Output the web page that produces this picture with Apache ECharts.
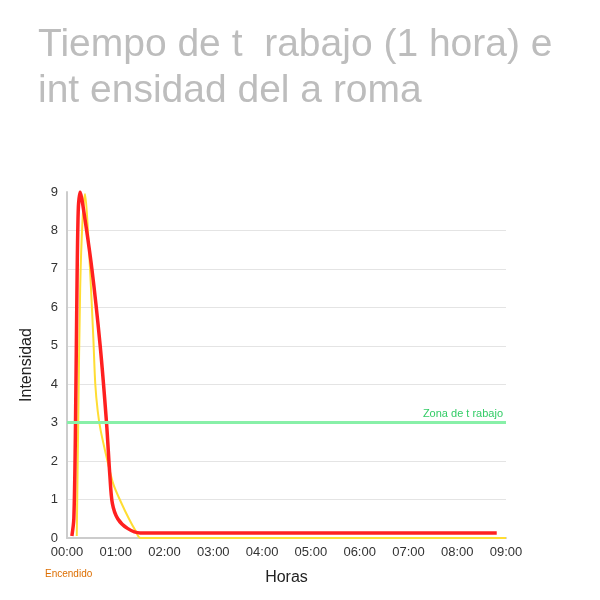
<!DOCTYPE html>
<html>
<head>
<meta charset="utf-8">
<script src="https://cdn.jsdelivr.net/npm/echarts@6/dist/echarts.min.js"></script>
<style>
  html, body { margin: 0; padding: 0; background: #fff; }
  #chart { width: 600px; height: 600px; }
</style>
</head>
<body>
<div id="chart"></div>
<script>
// hours since switch-on, intensity
const redCurve = [
    [0.10, 0.05], [0.14, 0.5], [0.17, 2.5], [0.20, 6.0],
    [0.23, 8.5], [0.27, 9.0], [0.32, 8.7], [0.51, 7.0],
    [0.68, 5.0], [0.81, 3.0], [0.88, 1.6], [0.93, 0.9],
    [1.04, 0.5], [1.24, 0.25], [1.50, 0.13], [3.00, 0.13], [8.81, 0.13]
];
const yellowCurve = [
    [0.20, 0.05], [0.23, 3.0], [0.27, 6.5], [0.32, 8.3], [0.37, 8.95],
    [0.42, 8.2], [0.48, 6.8], [0.54, 5.2], [0.58, 4.0], [0.63, 3.3],
    [0.69, 2.8], [0.83, 2.0], [0.95, 1.4], [1.10, 0.95], [1.27, 0.5],
    [1.40, 0.2], [1.51, 0.0], [3.00, 0.0], [9.00, 0.0]
];
const workZone = 3;
const hourTicks = ["00:00", "01:00", "02:00", "03:00", "04:00", "05:00", "06:00", "07:00", "08:00", "09:00"];

const font = "Liberation Sans, Arial, sans-serif";
let chart = echarts.init(document.getElementById("chart"));

// no grid line on the top value (9)
let gridColors = [];
for (let i = 0; i < 9; i++) gridColors.push("#e4e4e4");
gridColors.push("rgba(0,0,0,0)");

chart.setOption({
    animation: false,
    title: {
        text: "Tiempo de t  rabajo (1 hora) e\nint ensidad del a roma",
        left: 33,
        top: 17,
        textStyle: { fontFamily: font, fontSize: 39, fontWeight: "normal", color: "#bdbdbd", lineHeight: 46 }
    },
    grid: { left: 67, right: 94, top: 192, bottom: 62 },
    xAxis: {
        type: "value",
        min: 0, max: 9, interval: 1,
        name: "Horas",
        nameLocation: "middle",
        nameGap: 32,
        nameTextStyle: { fontFamily: font, fontSize: 16, color: "#222" },
        axisLine: { lineStyle: { color: "#cccccc", width: 2 } },
        axisTick: { show: false },
        axisLabel: { fontFamily: font, fontSize: 13, color: "#333", margin: 8, formatter: v => hourTicks[v] },
        splitLine: { show: false }
    },
    yAxis: {
        type: "value",
        min: 0, max: 9, interval: 1,
        name: "Intensidad",
        nameLocation: "middle",
        nameGap: 32,
        nameTextStyle: { fontFamily: font, fontSize: 16, color: "#222" },
        axisLine: { show: true, lineStyle: { color: "#cccccc", width: 2 } },
        axisTick: { show: false },
        axisLabel: { fontFamily: font, fontSize: 13, color: "#333", margin: 9 },
        splitLine: { lineStyle: { color: gridColors, width: 1 } }
    },
    graphic: [{
        type: "text",
        left: 45,
        top: 569,
        style: { text: "Encendido", fill: "#dd6e00", font: "10px " + font }
    }],
    series: [{
        type: "line",
        data: yellowCurve,
        smooth: 0.3,
        showSymbol: false,
        lineStyle: { color: "#ffdd33", width: 2 },
        z: 2
    }, {
        type: "line",
        data: redCurve,
        smooth: 0.3,
        showSymbol: false,
        lineStyle: { color: "#ff2020", width: 3.5 },
        z: 3,
        markLine: {
            silent: true,
            symbol: "none",
            data: [{ yAxis: workZone }],
            lineStyle: { color: "#88f0a8", width: 3, type: "solid" },
            label: {
                position: "insideEndTop",
                formatter: "Zona de t rabajo",
                fontFamily: font,
                fontSize: 11,
                color: "#33cc66",
                distance: 3
            }
        }
    }]
});
</script>
</body>
</html>
